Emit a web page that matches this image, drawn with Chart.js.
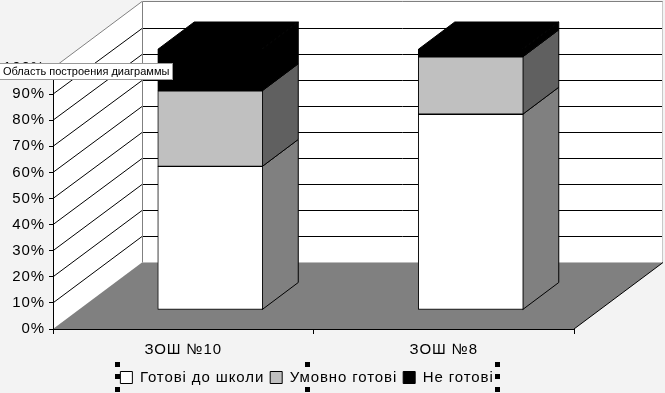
<!DOCTYPE html>
<html><head><meta charset="utf-8">
<style>html,body{margin:0;padding:0;background:#f3f3f3}#w{width:665px;height:393px;position:relative}</style>
<script src="https://cdn.jsdelivr.net/npm/chart.js@4"></script></head>
<body><div id="w"><canvas id="c" width="665" height="393"></canvas></div>
<script>
const categories = ['ЗОШ №10', 'ЗОШ №8'];
const seriesNames = ['Готові до школи', 'Умовно готові', 'Не готові'];
const ready = [55, 75];
const partly = [29, 22];
const notReady = [16, 3];
const yTicks = [0,10,20,30,40,50,60,70,80,90,100];
const fills = ['#ffffff', '#c0c0c0', '#000000'];
const sides = ['#808080', '#606060', '#000000'];
const tipText = 'Область построения диаграммы';
const WALL = {dx: 89, dy: -66.5};
const BAR = {dx: 27, dy: -19, sx: 36, sy: -27};

function poly(ctx, pts, fill, stroke){
  ctx.beginPath(); pts.forEach((p,i)=> i?ctx.lineTo(p[0],p[1]):ctx.moveTo(p[0],p[1])); ctx.closePath();
  if(fill){ctx.fillStyle=fill;ctx.fill();}
  if(stroke){ctx.strokeStyle=stroke;ctx.lineWidth=1;ctx.stroke();}
}
function line(ctx,a,b,c,d,col){ctx.beginPath();ctx.moveTo(a,b);ctx.lineTo(c,d);ctx.strokeStyle=col;ctx.lineWidth=1;ctx.stroke();}

const scene = {
  id:'scene',
  beforeUpdate(chart){ chart.ctx.letterSpacing='0.9px'; },
  afterLayout(chart){
    const l=chart.legend;
    l.left+=20; l.right+=20; l.top+=2; l.bottom+=2;
  },
  beforeDraw(chart){
    const ctx=chart.ctx, xs=chart.scales.x, ys=chart.scales.y;
    ctx.letterSpacing='0.9px';
    const L=xs.left, R=xs.right, y0=ys.getPixelForValue(0);
    const backY=v=> ys.getPixelForValue(v)+WALL.dy;
    const bx=L+WALL.dx, rx=R+WALL.dx;
    ctx.save();
    poly(ctx,[[bx,backY(100)],[rx,backY(100)],[rx,backY(0)],[bx,backY(0)]],'#ffffff');
    poly(ctx,[[L,ys.getPixelForValue(100)],[bx,backY(100)],[bx,backY(0)],[L,y0]],'#ffffff');
    yTicks.forEach(v=>{
      if(v===0||v===100) return;
      const fy=ys.getPixelForValue(v), by=Math.round(backY(v))+.5;
      line(ctx,L,fy,bx,by,'#000');
      line(ctx,bx,by,rx,by,'#000');
    });
    line(ctx,L,ys.getPixelForValue(100),bx,backY(100),'#808080');
    line(ctx,bx+.5,backY(100),rx,backY(100),'#808080');
    line(ctx,bx+.5,backY(100),bx+.5,backY(0),'#808080');
    line(ctx,rx-.5,backY(100),rx-.5,backY(0),'#c8c8c8');
    poly(ctx,[[L,y0],[bx,backY(0)],[rx,backY(0)],[R,y0]],'#808080');
    line(ctx,R,y0,rx,backY(0),'#000');
    ctx.restore();
  },
  beforeDatasetsDraw(chart){
    const ctx=chart.ctx;
    ctx.save();
    chart.data.datasets.forEach((d,di)=>{
      chart.getDatasetMeta(di).data.forEach(el=>{
        const r=el.x+el.width/2+BAR.dx-.5, t=el.y+BAR.dy, b=el.base+BAR.dy;
        poly(ctx,[[r,b],[r,t],[r+BAR.sx,t+BAR.sy],[r+BAR.sx,b+BAR.sy]],sides[di],'#000');
        if(di===chart.data.datasets.length-1){
          const l=el.x-el.width/2+BAR.dx+.5;
          poly(ctx,[[l,t],[l+BAR.sx,t+BAR.sy],[r+BAR.sx,t+BAR.sy],[r,t]],fills[di],'#000');
        }
      });
    });
    ctx.translate(BAR.dx,BAR.dy);
  },
  afterDatasetsDraw(chart){ chart.ctx.restore(); },
  afterDraw(chart){
    const ctx=chart.ctx;
    ctx.save();
    ctx.letterSpacing='0px';
    ctx.fillStyle='#000';
    [[115,362],[115,374],[115,387],[305,362],[305,387],[495,362],[495,374],[495,387]].forEach(p=>ctx.fillRect(p[0],p[1],5,5));
    ctx.fillStyle='#fff'; ctx.fillRect(0,63,173,16);
    ctx.strokeStyle='#999'; ctx.lineWidth=1; ctx.strokeRect(-1,63.5,173.5,16);
    ctx.fillStyle='#000'; ctx.font='11px "Liberation Sans"'; ctx.textBaseline='middle'; ctx.textAlign='left';
    ctx.fillText(tipText,3,71.5);
    ctx.restore();
  }
};

new Chart(document.getElementById('c'),{
  type:'bar',
  data:{labels:categories,datasets:[ready,partly,notReady].map((v,i)=>({
    label:seriesNames[i],data:v,backgroundColor:fills[i],borderColor:'#000',borderWidth:1,borderSkipped:false,
    barThickness:105,stack:'s'}))},
  options:{
    responsive:false,animation:false,
    layout:{padding:{top:68,right:91,left:0,bottom:0}},
    plugins:{tooltip:{enabled:false},title:{display:false},
      legend:{position:'bottom',align:'center',
        labels:{boxWidth:12,boxHeight:12,padding:6,color:'#000',font:{family:'Liberation Sans',size:15}}}},
    scales:{
      x:{stacked:true,grid:{display:true,drawOnChartArea:false,drawTicks:true,tickLength:5,color:'#000'},
        border:{color:'#000'},
        ticks:{color:'#000',padding:7,font:{family:'Liberation Sans',size:15},maxRotation:0},
        afterFit(s){s.height=64-s.chart.legend.height;}},
      y:{stacked:true,min:0,max:100,grid:{display:true,drawOnChartArea:false,tickLength:4,color:'#000'},
        border:{color:'#000'},
        ticks:{stepSize:10,color:'#000',padding:4,font:{family:'Liberation Sans',size:15},callback:v=>v+'%'},
        afterFit(s){s.width=53;}}
    }
  },
  plugins:[scene]
});
</script></body></html>
